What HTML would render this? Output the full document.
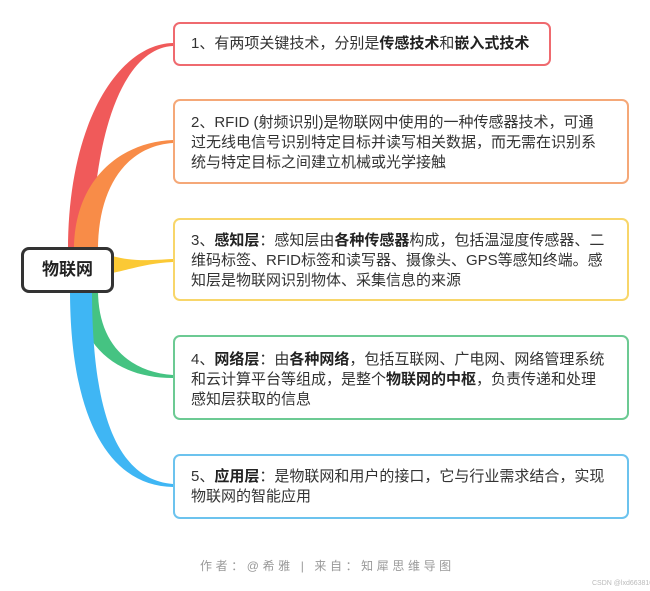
<!DOCTYPE html>
<html><head><meta charset="utf-8"><style>
body{margin:0;width:650px;height:591px;background:#fff;position:relative;overflow:hidden;font-family:"Liberation Sans","Noto Sans CJK SC",sans-serif;}
.b{position:absolute;box-sizing:border-box;border:2px solid;border-radius:7px;background:#fff;color:#333;font-size:15px;line-height:20px;padding-left:16px;white-space:nowrap;}
.b b{color:#222}
</style></head><body>
<svg width="650" height="591" style="position:absolute;left:0;top:0">
<path d="M68 250 C68 120 120 44 173 43 L173 46 C128 48 94 120 92 250 Z" fill="#f05a5a"/>
<path d="M74 250 C74 180 120 142 173 140 L173 143 C128 146 98 185 98 250 Z" fill="#f88c48"/>
<path d="M112 256 C135 262 150 260 173 259 L173 262 C150 263 135 268 112 273 Z" fill="#fbc935"/>
<path d="M76 290 C80 350 120 378 173 378 L173 375 C130 372 98 345 98 290 Z" fill="#45c382"/>
<path d="M70 290 C70 420 110 486 173 487 L173 484 C120 480 92 420 92 290 Z" fill="#3fb6f4"/>
</svg>
<div class="b" style="left:21px;top:247px;width:93px;height:46px;border:3px solid #333;border-radius:8px;font-weight:bold;font-size:17px;line-height:40px;text-align:center;padding:0;color:#222">物联网</div>
<div class="b" style="left:173px;top:22px;width:378px;height:44px;border-color:#ef6a6f;line-height:40px">1、有两项关键技术，分别是<b>传感技术</b>和<b>嵌入式技术</b></div>
<div class="b" style="left:173px;top:99px;width:456px;height:85px;border-color:#f5a878;padding-top:12px">2、RFID (射频识别)是物联网中使用的一种传感器技术，可通<br>过无线电信号识别特定目标并读写相关数据，而无需在识别系<br>统与特定目标之间建立机械或光学接触</div>
<div class="b" style="left:173px;top:218px;width:456px;height:83px;border-color:#f8d66a;padding-top:11px">3、<b>感知层</b>：感知层由<b>各种传感器</b>构成，包括温湿度传感器、二<br>维码标签、RFID标签和读写器、摄像头、GPS等感知终端。感<br>知层是物联网识别物体、采集信息的来源</div>
<div class="b" style="left:173px;top:335px;width:456px;height:85px;border-color:#6cca93;padding-top:13px">4、<b>网络层</b>：由<b>各种网络</b>，包括互联网、广电网、网络管理系统<br>和云计算平台等组成，是整个<b>物联网的中枢</b>，负责传递和处理<br>感知层获取的信息</div>
<div class="b" style="left:173px;top:454px;width:456px;height:65px;border-color:#6cc3ee;padding-top:11px">5、<b>应用层</b>：是物联网和用户的接口，它与行业需求结合，实现<br>物联网的智能应用</div>
<div style="position:absolute;left:200px;top:557px;font-size:12px;color:#999;letter-spacing:3.6px;white-space:nowrap">作者：@希雅 | 来自：知犀思维导图</div>
<div style="position:absolute;left:592px;top:580px;font-size:7px;color:#bbb;white-space:nowrap">CSDN @lxd663810</div>
</body></html>
